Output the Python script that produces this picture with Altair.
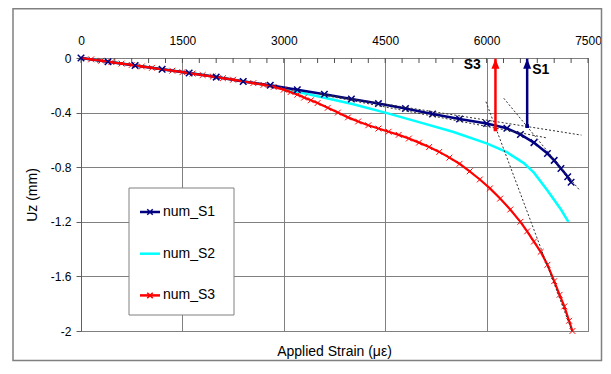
import altair as alt
import pandas as pd

FONT = "Liberation Sans, Arial, sans-serif"

# ---------------- data ----------------
x_ticks = [0, 1500, 3000, 4500, 6000, 7500]
x_minor = list(range(0, 7501, 250))
y_ticks = [0, -0.4, -0.8, -1.2, -1.6, -2]

s1_x = [0, 400, 800, 1200, 1600, 2000, 2400, 2800, 3200, 3600, 4000, 4400, 4800,
        5200, 5600, 6000, 6300, 6500, 6700, 6900, 7000, 7100, 7200, 7250]
s1_y = [0, -0.027, -0.055, -0.082, -0.11, -0.14, -0.172, -0.2, -0.233, -0.265, -0.3,
        -0.334, -0.37, -0.41, -0.447, -0.48, -0.515, -0.56, -0.62, -0.7, -0.75,
        -0.81, -0.87, -0.91]

s2_x = [0, 500, 1000, 1500, 2000, 2500, 3000, 3500, 4000, 4500, 5000, 5500, 6000,
        6300, 6550, 6700, 6900, 7100, 7210]
s2_y = [0, -0.033, -0.068, -0.102, -0.138, -0.178, -0.225, -0.28, -0.335, -0.4,
        -0.47, -0.54, -0.625, -0.69, -0.77, -0.84, -0.97, -1.11, -1.2]

s3_x = [0, 150, 300, 450, 600, 750, 900, 1050, 1200, 1350, 1500, 1650, 1800, 1950,
        2100, 2250, 2400, 2550, 2700, 2850, 3000, 3100, 3200, 3300, 3400, 3500,
        3650, 3800, 3950, 4100, 4250, 4400, 4550, 4700, 4850, 5000, 5150, 5300,
        5450, 5600, 5750, 5900, 6050, 6200, 6350, 6500, 6600, 6700, 6800, 6900,
        7000, 7080, 7150, 7220, 7270]
s3_y = [0, -0.01, -0.02, -0.03, -0.041, -0.051, -0.062, -0.072, -0.083, -0.093,
        -0.104, -0.114, -0.125, -0.136, -0.148, -0.159, -0.171, -0.184, -0.197,
        -0.212, -0.232, -0.25, -0.268, -0.29, -0.31, -0.33, -0.365, -0.4, -0.435,
        -0.465, -0.493, -0.517, -0.54, -0.563, -0.59, -0.62, -0.652, -0.688,
        -0.73, -0.775, -0.83, -0.89, -0.955, -1.03, -1.11, -1.2, -1.27, -1.345,
        -1.42, -1.515, -1.635, -1.735, -1.82, -1.925, -2.0]

# dotted tangent lines (start, end)
tan_seg = ["t1", "t1", "t2", "t2", "t3", "t3", "t4", "t4"]
tan_x = [3534, 7403, 3534, 6887, 5990, 7262, 6254, 7378]
tan_y = [-0.262, -0.565, -0.267, -0.585, -0.32, -2.0, -0.295, -0.97]

# arrows
arrow_name = ["S3", "S1"]
arrow_x = [6131, 6600]
arrow_bottom = [-0.523, -0.499]
arrow_top = [-0.005, -0.005]
arrow_color = ["#FF0000", "#000080"]
label_x = [5789, 6801]
label_y = [-0.049, -0.086]

series_names = ["num_S1", "num_S2", "num_S3"]
series_colors = ["#000080", "#00FFFF", "#FF0000"]
series_marker = [True, False, True]

x_title = "Applied Strain (\u03bc\u03b5)"
y_title = "Uz (mm)"

# ---------------- tables ----------------
df1 = pd.DataFrame({"x": s1_x, "y": s1_y})
df2 = pd.DataFrame({"x": s2_x, "y": s2_y})
df3 = pd.DataFrame({"x": s3_x, "y": s3_y})
dft = pd.DataFrame({"seg": tan_seg, "x": tan_x, "y": tan_y})
dfa = pd.DataFrame({"name": arrow_name, "x": arrow_x, "y": arrow_bottom,
                    "y2": arrow_top, "c": arrow_color})
dfl = pd.DataFrame({"name": arrow_name, "x": label_x, "y": label_y})
dfminor = pd.DataFrame({"x": x_minor})
dfone = pd.DataFrame({"a": [0]})

# manual legend layout (pixel positions inside plot area)
LEG_LEFT, LEG_TOP, LEG_RIGHT, LEG_BOTTOM = 48, 130, 153, 257
LEG_ROW0, LEG_STEP = 154, 41.7
dfleg = pd.DataFrame({
    "name": series_names,
    "c": series_colors,
    "m": series_marker,
    "ly": [LEG_ROW0 + LEG_STEP * i for i in range(len(series_names))],
})

# ---------------- scales / axes ----------------
xscale = alt.Scale(domain=[0, 7500], nice=False, zero=False)
yscale = alt.Scale(domain=[-2, 0], nice=False, zero=False)

xaxis = alt.Axis(orient="top", values=x_ticks, grid=True, ticks=False, domain=False,
                 format="d", labelPadding=11, labelFontSize=12, labelFont=FONT,
                 labelColor="black", title=None, labelFlush=False)
yaxis = alt.Axis(orient="left", values=y_ticks, grid=True, ticks=True, tickSize=5,
                 tickColor="#606060", domainColor="#606060",
                 labelExpr="replace(format(datum.value, '.1~f'), '\u2212', '-')",
                 labelPadding=5, labelFontSize=12, labelFont=FONT, labelColor="black",
                 title=y_title, titleFont=FONT, titleFontSize=14,
                 titleFontWeight="normal", titleColor="black", titlePadding=11)


def X(field="x"):
    return alt.X(f"{field}:Q", scale=xscale, axis=xaxis)


def Y(field="y"):
    return alt.Y(f"{field}:Q", scale=yscale, axis=yaxis)


XMARK = "M-1,-1L1,1M-1,1L1,-1"

frame = alt.Chart(dfone).mark_rect(fill="white", fillOpacity=0, stroke="#808080",
                                   strokeWidth=1.5).encode(
    x=alt.value(-68), x2=alt.value(520.5), y=alt.value(-49.2), y2=alt.value(302.5))

xtitle = alt.Chart(dfone).mark_text(font=FONT, fontSize=14, color="black",
                                    align="center", baseline="middle").encode(
    x=alt.value(253.5), y=alt.value(294), text=alt.value(x_title))

minor = alt.Chart(dfminor).mark_rule(color="#505050", strokeWidth=1).encode(
    x=X(), y=alt.value(0), y2=alt.value(5))

s1_line = alt.Chart(df1).mark_line(color="#000080", strokeWidth=2.5).encode(x=X(), y=Y())
s1_pts = alt.Chart(df1).mark_point(shape=XMARK, size=42, filled=False, color="#000080",
                                   strokeWidth=1.5, opacity=1).encode(x=X(), y=Y())
s2_line = alt.Chart(df2).mark_line(color="#00FFFF", strokeWidth=2.5).encode(x=X(), y=Y())
s3_line = alt.Chart(df3).mark_line(color="#FF0000", strokeWidth=2.2).encode(x=X(), y=Y())
s3_pts = alt.Chart(df3).mark_point(shape=XMARK, size=34, filled=False, color="#FF0000",
                                   strokeWidth=1, opacity=1).encode(x=X(), y=Y())

tangents = alt.Chart(dft).mark_line(color="#303030", strokeWidth=1,
                                    strokeDash=[2, 2]).encode(
    x=X(), y=Y(), detail="seg:N")

shafts = alt.Chart(dfa).mark_rule(strokeWidth=2.5).encode(
    x=X(), y=Y(), y2="y2:Q", color=alt.Color("c:N", scale=None))
heads = alt.Chart(dfa).mark_point(shape="M0,-1L0.8,1L-0.8,1Z", size=100, filled=True,
                                  opacity=1, yOffset=5).encode(
    x=X(), y=Y("y2"), color=alt.Color("c:N", scale=None))
bases = alt.Chart(dfa).mark_square(size=14, opacity=1).encode(
    x=X(), y=Y(), color=alt.Color("c:N", scale=None))
labels = alt.Chart(dfl).mark_text(font=FONT, fontSize=14, fontWeight="bold",
                                  color="black", align="center", baseline="middle").encode(
    x=X(), y=Y(), text="name:N")

# legend (drawn by hand)
leg_box = alt.Chart(dfone).mark_rect(fill="white", stroke="#808080", strokeWidth=1).encode(
    x=alt.value(LEG_LEFT), x2=alt.value(LEG_RIGHT),
    y=alt.value(LEG_TOP), y2=alt.value(LEG_BOTTOM))
leg_lines = alt.Chart(dfleg).mark_rule(strokeWidth=2.5).encode(
    x=alt.value(LEG_LEFT + 11), x2=alt.value(LEG_LEFT + 31),
    y=alt.Y("ly:Q", scale=None), color=alt.Color("c:N", scale=None))
leg_marks = alt.Chart(dfleg).transform_filter("datum.m").mark_point(
    shape=XMARK, size=30, filled=False, strokeWidth=1.5, opacity=1).encode(
    x=alt.value(LEG_LEFT + 21), y=alt.Y("ly:Q", scale=None),
    color=alt.Color("c:N", scale=None))
leg_text = alt.Chart(dfleg).mark_text(font=FONT, fontSize=14, color="black",
                                      align="left", baseline="middle").encode(
    x=alt.value(LEG_LEFT + 34), y=alt.Y("ly:Q", scale=None), text="name:N")

chart = alt.layer(
    frame, xtitle, minor, s2_line, s1_line, s3_line, s3_pts, s1_pts, tangents,
    shafts, heads, bases, labels, leg_box, leg_lines, leg_marks, leg_text
).properties(
    width=507, height=273,
    autosize=alt.AutoSizeParams(type="none"),
    padding={"left": 73, "top": 50, "right": 15, "bottom": 31},
    background="white",
).configure_view(stroke="#808080", strokeWidth=1).configure_axis(
    gridColor="#808080", gridWidth=1, gridOpacity=1)

chart.save("out.html", embed_options={"renderer": "svg", "actions": False})
